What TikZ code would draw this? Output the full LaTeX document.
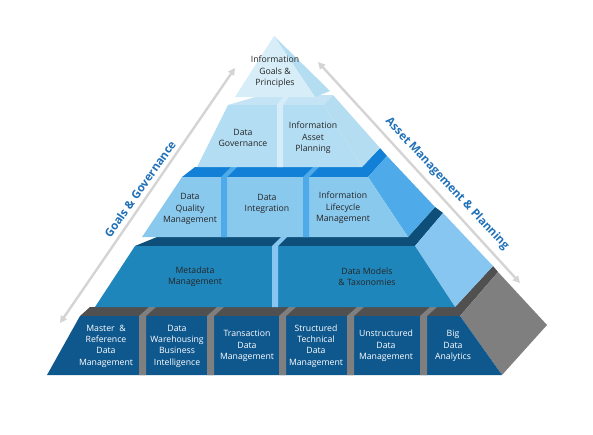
\documentclass[tikz,border=0pt]{standalone}
\usepackage{fontspec}
\setmainfont{Open Sans}
\usetikzlibrary{arrows.meta}
\definecolor{pyrbase}{RGB}{14,88,142}
\definecolor{pyrbasetop}{RGB}{80,80,80}
\definecolor{pyrgrey}{RGB}{127,127,127}
\definecolor{pyrmid}{RGB}{31,134,187}
\definecolor{pyrmidtop}{RGB}{14,79,122}
\definecolor{pyrmidside}{RGB}{136,198,242}
\definecolor{pyrlight}{RGB}{138,201,238}
\definecolor{pyrlighttop}{RGB}{19,128,216}
\definecolor{pyrlightside}{RGB}{78,170,232}
\definecolor{pyrpale}{RGB}{179,221,242}
\definecolor{pyrpaletop}{RGB}{196,228,245}
\definecolor{pyrpalegap}{RGB}{214,236,248}
\definecolor{pyrtip}{RGB}{215,237,248}
\definecolor{pyrtipside}{RGB}{180,221,242}
\definecolor{axgrey}{RGB}{212,212,212}
\definecolor{lblblue}{RGB}{31,112,184}

\begin{document}
\begin{tikzpicture}[x=1pt,y=-1pt,
  blk/.style={font=\fontsize{8.7}{11.3}\selectfont, align=center, text=black!85},
  blkw/.style={blk, text=white},
  axis/.style={draw=axgrey, line width=2.4pt, {Triangle[length=7pt,width=7pt]}-{Triangle[length=7pt,width=7pt]}},
  axlbl/.style={font=\bfseries\fontsize{11.5}{13}\selectfont, text=lblblue}]
\useasboundingbox (0,0) rectangle (593,434);
% Side arrows
\coordinate (gl1) at (60,323);
\coordinate (gl2) at (235,68);
\coordinate (am1) at (318,62);
\coordinate (am2) at (520,283);
\draw[axis] (gl1) -- (gl2);
\draw[axis] (am1) -- (am2);
\node[axlbl, rotate=55] (goals) at (140,189) {Goals \& Governance};
\node[axlbl, rotate=-47] (asset) at (447,184) {Asset Management \& Planning};
% Base tier
\fill[pyrbasetop] (80,316) -- (460,316) -- (498,272) -- (493,266) -- (455,307) -- (90,307) -- cycle;
\fill[pyrgrey] (460,316) -- (498,272) -- (547,325) -- (502,375) -- cycle;
\fill[pyrbase] (47,375) -- (502,375) -- (460,316) -- (80,316) -- cycle;
\foreach \x in {139,207,279,347,420}
  \fill[pyrgrey] (\x,375) -- (\x+7,375) -- (\x+7,316) -- (\x+17,307) -- (\x+10,307) -- (\x,316) -- cycle;
% Metadata tier
\fill[pyrmidtop] (135,246) -- (415,246) -- (443,213) -- (435,207) -- (408,237) -- (157,237) -- cycle;
\fill[pyrmidside] (415,246) -- (443,213) -- (493,266) -- (455,307) -- cycle;
\fill[pyrmid] (95,307) -- (455,307) -- (415,246) -- (135,246) -- cycle;
\fill[pyrmidside] (272,307) -- (278,307) -- (278,246) -- (287,237) -- (281,237) -- (272,246) -- cycle;
% Quality tier
\fill[pyrlighttop] (182,177) -- (368,177) -- (387,156) -- (380,148) -- (362,167) -- (195,167) -- cycle;
\fill[pyrlightside] (368,177) -- (387,156) -- (435,207) -- (408,237) -- cycle;
\fill[pyrlight] (142,237) -- (408,237) -- (368,177) -- (182,177) -- cycle;
\foreach \x in {221,303}
  \fill[pyrlightside] (\x,237) -- (\x+6,237) -- (\x+6,177) -- (\x+16,167) -- (\x+10,167) -- (\x,177) -- cycle;
% Governance tier
\fill[pyrpaletop] (228,105) -- (324,105) -- (333,95) -- (262,95) -- cycle;
\fill[pyrtipside] (324,105) -- (333,95) -- (380,148) -- (362,167) -- cycle;
\fill[pyrpale] (197,167) -- (362,167) -- (324,105) -- (228,105) -- cycle;
\fill[pyrpalegap] (277,167) -- (283,167) -- (283,105) -- (289,97) -- (283,97) -- (277,105) -- cycle;
% Top
\fill[pyrtipside] (274,36) -- (330,91) -- (315,97) -- cycle;
\fill[pyrtip] (235,97) -- (315,97) -- (274,36) -- cycle;
% Labels
\node[blk] (goalsp) at (275,72) {Information\\Goals \&\\Principles};
\node[blk] (gov) at (243,138) {Data\\Governance};
\node[blk] (iap) at (313,138) {Information\\Asset\\Planning};
\node[blk] (dqm) at (190,209) {Data\\Quality\\Management};
\node[blk] (dint) at (267,204) {Data\\Integration};
\node[blk] (ilm) at (343,208) {Information\\Lifecycle\\Management};
\node[blk] (meta) at (195,277) {Metadata\\Management};
\node[blk] (dmod) at (367,277) {Data Models\\\& Taxonomies};
\node[blkw] (mdm) at (106,346) {Master~~\&\\Reference\\Data\\Management};
\node[blkw] (dwh) at (177,346) {Data\\Warehousing\\Business\\Intelligence};
\node[blkw] (tdm) at (247,346) {Transaction\\Data\\Management};
\node[blkw] (stdm) at (316,346) {Structured\\Technical\\Data\\Management};
\node[blkw] (udm) at (386,346) {Unstructured\\Data\\Management};
\node[blkw] (bda) at (453,346) {Big\\Data\\Analytics};
\end{tikzpicture}
\end{document}
